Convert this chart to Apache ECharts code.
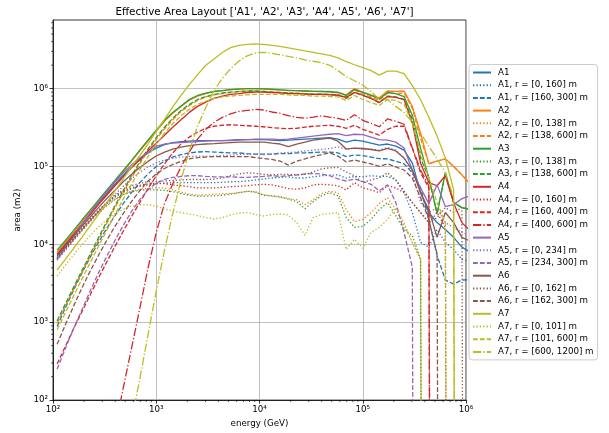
<!DOCTYPE html>
<html><head><meta charset="utf-8">
<script src="https://cdn.jsdelivr.net/npm/echarts@6/dist/echarts.min.js"></script>
<style>html,body{margin:0;padding:0;background:#fff}#c{width:609px;height:433px}</style>
</head><body><div id="c"></div>
<script>
// energy bin centres (GeV)
const energyGeV = [109.6,131.8,158.5,190.5,229.1,275.4,331.1,398.1,478.6,575.4,691.8,831.8,1000,1202,1445,1738,2089,2512,3020,3631,4365,5248,6310,7586,9120,10965,13183,15849,19055,22909,27542,33113,39811,47863,57544,69183,83176,100000,120226,144544,173780,208930,251189,301995,363078,436516,524807,630957,758578,912011,1096478];

// effective area (m2); 0 = no area
const A1_all = [7.2e3,9.9e3,1.34e4,1.82e4,2.48e4,3.33e4,4.47e4,5.9e4,7.7e4,9.85e4,1.23e5,1.49e5,1.72e5,1.9e5,2.02e5,2.08e5,2.11e5,2.14e5,2.14e5,2.14e5,2.14e5,2.18e5,2.21e5,2.21e5,2.21e5,2.21e5,2.18e5,2.14e5,2.18e5,2.21e5,2.24e5,2.27e5,2.31e5,2.34e5,2.24e5,2.05e5,2.18e5,2.11e5,1.99e5,1.88e5,1.94e5,1.82e5,1.62e5,1.11e5,4.6e4,2.56e4,1.9e4,1.55e4,1.23e4,9.2e3,8.0e3];
const A1_r0_160 = [6.4e3,8.6e3,1.16e4,1.53e4,2.02e4,2.63e4,3.33e4,4.03e4,4.66e4,5.2e4,5.56e4,5.8e4,5.98e4,6.1e4,6.2e4,6.2e4,6.2e4,6.2e4,6.2e4,6.2e4,6.25e4,6.35e4,6.4e4,6.5e4,6.7e4,6.9e4,7.1e4,7.24e4,7.35e4,7.1e4,7.1e4,7.35e4,7.6e4,7.7e4,7.8e4,7.1e4,7.46e4,7.35e4,7.6e4,7.46e4,7.46e4,6.7e4,4.6e4,2.56e4,1.06e4,9.2e3,1.55e4,1.06e4,8.6e3,6.4e3,6.0e3];
const A1_r160_300 = [8.8e2,1.53e3,2.59e3,4.27e3,6.8e3,1.06e4,1.6e4,2.34e4,3.33e4,4.6e4,6.2e4,8.0e4,1.0e5,1.17e5,1.32e5,1.42e5,1.49e5,1.53e5,1.55e5,1.53e5,1.51e5,1.49e5,1.49e5,1.46e5,1.44e5,1.44e5,1.44e5,1.46e5,1.46e5,1.49e5,1.49e5,1.51e5,1.53e5,1.53e5,1.49e5,1.34e5,1.40e5,1.38e5,1.32e5,1.26e5,1.25e5,1.17e5,1.08e5,8.3e4,5.3e4,2.08e4,7.2e3,3.48e3,3.09e3,3.48e3,3.5e3];

const A2_all = [7.9e3,1.06e4,1.42e4,1.94e4,2.63e4,3.53e4,4.73e4,6.35e4,8.5e4,1.16e5,1.58e5,2.11e5,2.83e5,3.8e5,4.8e5,5.9e5,7.1e5,8.0e5,8.6e5,9.2e5,9.4e5,9.7e5,9.9e5,1.0e6,1.0e6,9.9e5,9.7e5,9.6e5,9.4e5,9.4e5,9.3e5,9.2e5,9.2e5,9.0e5,8.9e5,8.3e5,1.0e6,9.0e5,8.3e5,7.6e5,9.3e5,9.2e5,9.3e5,5.9e5,2.67e5,1.08e5,1.17e5,1.25e5,1.0e5,7.8e4,6.0e4];
const A2_r0_138 = [6.4e3,8.5e3,1.12e4,1.49e4,1.94e4,2.48e4,3.09e4,3.74e4,4.33e4,4.8e4,5.1e4,5.24e4,5.3e4,5.3e4,5.0e4,4.66e4,4.4e4,4.27e4,4.33e4,4.4e4,4.47e4,4.47e4,4.6e4,4.8e4,4.73e4,4.33e4,4.15e4,4.03e4,3.86e4,3.74e4,3.23e4,3.74e4,4.47e4,4.8e4,4.6e4,2.79e4,1.96e4,2.08e4,2.56e4,3.33e4,3.97e4,2.79e4,1.75e4,1.06e4,6.4e3,0,0,0,0,0,0];
const A2_r138_600 = [9.6e2,1.62e3,2.67e3,4.33e3,7.0e3,1.14e4,1.85e4,2.96e4,4.6e4,7.1e4,1.08e5,1.58e5,2.24e5,3.05e5,3.97e5,5.09e5,6.07e5,7.03e5,7.8e5,8.3e5,8.6e5,8.9e5,9.16e5,9.3e5,9.3e5,9.16e5,9.0e5,8.9e5,8.76e5,8.76e5,8.6e5,8.5e5,8.5e5,8.4e5,8.3e5,7.8e5,9.6e5,8.5e5,7.8e5,7.03e5,8.76e5,8.6e5,8.76e5,5.56e5,2.31e5,1.08e5,1.17e5,1.25e5,1.0e5,7.8e4,6.0e4];

const A3_all = [8.4e3,1.12e4,1.51e4,2.05e4,2.75e4,3.69e4,4.94e4,6.63e4,8.89e4,1.19e5,1.62e5,2.18e5,2.92e5,3.91e5,4.94e5,5.98e5,7.24e5,8.15e5,8.76e5,9.16e5,9.43e5,9.71e5,9.85e5,1.0e6,1.0e6,9.9e5,9.8e5,9.6e5,9.5e5,9.4e5,9.3e5,9.2e5,9.16e5,9.16e5,8.9e5,8.15e5,9.71e5,8.9e5,8.15e5,7.35e5,8.9e5,8.6e5,7.9e5,4.53e5,1.72e5,7.1e4,2.48e4,8.3e4,3.43e4,2.96e4,2.8e4];
const A3_r0_138 = [6.8e3,9.0e3,1.19e4,1.58e4,2.05e4,2.59e4,3.19e4,3.8e4,4.33e4,4.73e4,4.94e4,5.0e4,5.0e4,4.94e4,4.73e4,4.47e4,4.27e4,4.15e4,4.15e4,4.2e4,4.27e4,4.4e4,4.6e4,4.8e4,4.66e4,4.27e4,4.2e4,4.09e4,3.8e4,3.53e4,2.87e4,3.53e4,4.2e4,4.6e4,4.2e4,2.21e4,1.65e4,1.70e4,2.08e4,2.79e4,3.43e4,2.34e4,1.55e4,1.30e4,6.4e3,0,0,0,0,0,0];
const A3_r138_600 = [1.04e3,1.72e3,2.83e3,4.6e3,7.46e3,1.21e4,1.96e4,3.14e4,4.87e4,7.6e4,1.14e5,1.67e5,2.34e5,3.19e5,4.15e5,5.24e5,6.25e5,7.24e5,7.9e5,8.4e5,8.76e5,9.0e5,9.16e5,9.3e5,9.3e5,9.16e5,9.0e5,8.9e5,8.76e5,8.6e5,8.6e5,8.5e5,8.5e5,8.4e5,8.3e5,7.46e5,8.9e5,8.15e5,7.46e5,6.6e5,8.0e5,7.8e5,7.24e5,4.03e5,1.28e5,7.1e4,2.48e4,8.3e4,3.43e4,2.96e4,2.8e4];

const A4_all = [7.5e3,1.0e4,1.34e4,1.8e4,2.41e4,3.23e4,4.27e4,5.65e4,7.35e4,9.6e4,1.23e5,1.58e5,1.99e5,2.52e5,3.19e5,3.97e5,4.94e5,5.9e5,6.7e5,7.46e5,8.0e5,8.4e5,8.6e5,8.9e5,9.0e5,9.0e5,8.9e5,8.8e5,8.6e5,8.6e5,8.5e5,8.4e5,8.4e5,8.3e5,8.2e5,7.7e5,8.9e5,8.2e5,7.5e5,6.6e5,7.9e5,7.7e5,7.2e5,3.6e5,1.1e5,6.2e4,5.65e4,7.6e4,3.4e4,1.9e4,1.5e4];
const A4_r0_160 = [6.6e3,8.9e3,1.19e4,1.6e4,2.11e4,2.75e4,3.43e4,4.15e4,4.8e4,5.3e4,5.7e4,6.0e4,6.1e4,6.0e4,5.8e4,5.65e4,5.5e4,5.3e4,5.3e4,5.3e4,5.4e4,5.5e4,5.55e4,5.65e4,5.8e4,5.9e4,5.8e4,5.5e4,5.2e4,5.1e4,5.3e4,5.8e4,5.9e4,5.8e4,5.65e4,5.0e4,6.2e4,5.3e4,5.0e4,4.6e4,5.65e4,5.3e4,4.6e4,3.43e4,2.56e4,1.9e4,2.56e4,1.65e4,0,0,0];
const A4_r160_400 = [2.9e2,4.9e2,8.3e2,1.36e3,2.24e3,3.69e3,5.9e3,9.4e3,1.47e4,2.27e4,3.43e4,5.2e4,7.6e4,1.08e5,1.49e5,1.94e5,2.38e5,2.75e5,3.09e5,3.28e5,3.38e5,3.43e5,3.38e5,3.33e5,3.28e5,3.23e5,3.14e5,3.09e5,3.05e5,3.09e5,3.19e5,3.28e5,3.33e5,3.38e5,3.28e5,3.09e5,3.38e5,3.0e5,2.75e5,2.52e5,3.0e5,3.28e5,3.28e5,1.72e5,8.3e4,5.3e4,0,0,0,0,0];
const A4_r400_600 = [0,0,0,0,0,0,0,44,142,460,1.49e3,4.94e3,1.42e4,3.33e4,5.98e4,9.86e4,1.53e5,2.24e5,3.0e5,3.69e5,4.27e5,4.73e5,5.09e5,5.24e5,5.4e5,5.3e5,5.0e5,4.8e5,4.5e5,4.27e5,4.15e5,4.3e5,4.46e5,4.3e5,4.15e5,3.91e5,4.6e5,3.91e5,3.58e5,3.23e5,4.08e5,3.8e5,3.48e5,1.72e5,9.0e4,5.65e4,0,0,0,0,0];

const A5_all = [6.4e3,9.2e3,1.28e4,1.8e4,2.52e4,3.48e4,4.73e4,6.35e4,8.3e4,1.04e5,1.28e5,1.51e5,1.82e5,1.94e5,1.99e5,2.02e5,2.05e5,2.08e5,2.11e5,2.14e5,2.14e5,2.14e5,2.18e5,2.21e5,2.24e5,2.24e5,2.24e5,2.21e5,2.24e5,2.31e5,2.38e5,2.45e5,2.52e5,2.59e5,2.63e5,2.48e5,2.59e5,2.56e5,2.38e5,2.21e5,2.18e5,2.05e5,1.72e5,9.0e4,5.3e4,3.33e4,5.8e4,3.05e4,3.23e4,3.86e4,4.2e4];
const A5_r0_234 = [6.25e3,8.4e3,1.12e4,1.51e4,1.99e4,2.63e4,3.43e4,4.4e4,5.56e4,6.9e4,8.4e4,9.85e4,1.11e5,1.21e5,1.28e5,1.32e5,1.34e5,1.36e5,1.36e5,1.36e5,1.38e5,1.40e5,1.42e5,1.44e5,1.44e5,1.42e5,1.44e5,1.49e5,1.51e5,1.53e5,1.58e5,1.62e5,1.65e5,1.70e5,1.77e5,1.67e5,1.72e5,1.65e5,1.67e5,1.62e5,1.75e5,1.62e5,1.28e5,8.3e4,3.43e4,2.56e4,2.96e4,1.9e4,1.65e4,1.42e4,1.3e4];
const A5_r234_300 = [2.5e2,4.6e2,8.3e2,1.44e3,2.52e3,4.27e3,7.0e3,1.12e4,1.75e4,2.63e4,3.74e4,5.0e4,6.1e4,6.8e4,7.24e4,7.46e4,7.6e4,7.6e4,7.46e4,7.35e4,7.35e4,7.35e4,7.24e4,7.24e4,7.35e4,7.46e4,7.6e4,7.46e4,7.6e4,7.8e4,8.0e4,8.1e4,8.0e4,7.6e4,6.9e4,6.5e4,6.9e4,6.4e4,5.9e4,4.87e4,5.8e4,3.43e4,1.42e4,5.1e3,0,0,0,0,0,0,0];

const A6_all = [7.0e3,9.4e3,1.26e4,1.70e4,2.24e4,2.96e4,3.86e4,4.94e4,6.35e4,7.9e4,9.7e4,1.16e5,1.36e5,1.53e5,1.67e5,1.77e5,1.85e5,1.91e5,1.94e5,1.96e5,1.99e5,2.02e5,2.05e5,2.05e5,2.05e5,2.05e5,1.99e5,1.94e5,1.80e5,1.94e5,2.05e5,2.18e5,2.24e5,2.31e5,2.11e5,1.67e5,1.72e5,1.70e5,1.65e5,1.58e5,1.70e5,1.58e5,1.28e5,9.0e4,4.6e4,2.79e4,1.23e4,2.56e4,1.9e4,1.23e4,1.1e4];
const A6_r0_162 = [6.6e3,8.8e3,1.16e4,1.53e4,2.02e4,2.63e4,3.38e4,4.2e4,5.0e4,5.65e4,6.1e4,6.35e4,6.4e4,6.5e4,6.6e4,6.7e4,6.8e4,6.8e4,6.8e4,6.9e4,7.1e4,7.6e4,8.0e4,8.3e4,8.15e4,7.9e4,7.8e4,7.9e4,7.9e4,7.8e4,7.9e4,8.5e4,9.3e4,9.6e4,9.7e4,8.5e4,7.6e4,6.2e4,6.7e4,7.1e4,8.3e4,6.7e4,4.87e4,3.43e4,2.56e4,1.9e4,2.21e4,2.96e4,2.56e4,2.96e4,0];
const A6_r162_300 = [5.2e2,9.3e2,1.62e3,2.75e3,4.53e3,7.2e3,1.12e4,1.70e4,2.48e4,3.53e4,4.87e4,6.5e4,8.0e4,9.4e4,1.06e5,1.16e5,1.25e5,1.30e5,1.32e5,1.34e5,1.34e5,1.34e5,1.34e5,1.34e5,1.30e5,1.26e5,1.23e5,1.17e5,1.04e5,1.17e5,1.25e5,1.34e5,1.42e5,1.49e5,1.36e5,1.14e5,1.21e5,1.14e5,1.08e5,1.0e5,1.08e5,9.85e4,9.0e4,7.1e4,3.97e4,2.08e4,7.5e3,0,0,0,0];

const A7_all = [4.7e3,6.4e3,8.9e3,1.23e4,1.72e4,2.41e4,3.43e4,4.87e4,6.9e4,9.85e4,1.38e5,1.94e5,2.83e5,4.03e5,5.8e5,8.15e5,1.12e6,1.51e6,1.99e6,2.4e6,2.9e6,3.35e6,3.58e6,3.69e6,3.74e6,3.69e6,3.58e6,3.48e6,3.33e6,3.19e6,3.05e6,2.92e6,2.79e6,2.67e6,2.48e6,2.21e6,2.02e6,1.85e6,1.70e6,1.49e6,1.67e6,1.67e6,1.55e6,1.09e6,7.24e5,4.27e5,2.45e5,1.28e5,5.0e4,0,0];
const A7_r0_101 = [3.9e3,5.4e3,7.35e3,9.85e3,1.30e4,1.67e4,2.08e4,2.48e4,2.83e4,3.09e4,3.23e4,3.23e4,3.09e4,2.87e4,2.67e4,2.56e4,2.45e4,2.34e4,2.21e4,2.11e4,2.21e4,2.38e4,2.52e4,2.56e4,2.41e4,2.31e4,2.41e4,2.45e4,2.38e4,1.9e4,1.3e4,2.21e4,2.41e4,2.48e4,2.56e4,8.6e3,1.16e4,8.9e3,1.42e4,1.65e4,2.08e4,2.96e4,1.9e4,1.06e4,6.4e3,0,0,0,0,0,0];
const A7_r101_600 = [8.0e2,1.32e3,2.18e3,3.58e3,5.8e3,9.4e3,1.51e4,2.41e4,3.8e4,5.9e4,9.0e4,1.34e5,1.94e5,2.67e5,3.53e5,4.47e5,5.4e5,6.25e5,6.9e5,7.46e5,7.8e5,8.0e5,8.15e5,8.3e5,8.4e5,8.4e5,8.4e5,8.4e5,8.3e5,8.15e5,8.15e5,8.0e5,8.0e5,7.9e5,7.8e5,7.03e5,8.15e5,7.24e5,6.6e5,6.07e5,7.24e5,7.03e5,6.25e5,3.58e5,1.49e5,7.1e4,3.43e4,1.9e4,0,0,0];
const A7_r600_1200 = [0,0,0,0,0,0,0,0,0,54,185,690,2.5e3,8.4e3,2.48e4,6.7e4,1.58e5,3.28e5,5.7e5,9.5e5,1.35e6,1.80e6,2.25e6,2.63e6,2.87e6,2.92e6,2.83e6,2.71e6,2.59e6,2.48e6,2.34e6,2.24e6,2.14e6,1.99e6,1.70e6,1.42e6,1.26e6,1.11e6,9.16e5,7.24e5,7.24e5,5.9e5,4.94e5,3.69e5,2.67e5,1.82e5,1.25e5,8.3e4,4.0e4,0,0];

// tick labels (exponents of ten)
const xTickExponents = [2, 3, 4, 5, 6];
const yTickExponents = [2, 3, 4, 5, 6];
const supDigits = {'2':'\u00b2','3':'\u00b3','4':'\u2074','5':'\u2075','6':'\u2076'};

const seriesSpecs = [
  ['A1', A1_all, '#1f77b4', 'solid'],
  ['A1, r = [0, 160] m', A1_r0_160, '#1f77b4', 'dotted'],
  ['A1, r = [160, 300] m', A1_r160_300, '#1f77b4', 'dashed'],
  ['A2', A2_all, '#ff7f0e', 'solid'],
  ['A2, r = [0, 138] m', A2_r0_138, '#ff7f0e', 'dotted'],
  ['A2, r = [138, 600] m', A2_r138_600, '#ff7f0e', 'dashed'],
  ['A3', A3_all, '#2ca02c', 'solid'],
  ['A3, r = [0, 138] m', A3_r0_138, '#2ca02c', 'dotted'],
  ['A3, r = [138, 600] m', A3_r138_600, '#2ca02c', 'dashed'],
  ['A4', A4_all, '#d62728', 'solid'],
  ['A4, r = [0, 160] m', A4_r0_160, '#d62728', 'dotted'],
  ['A4, r = [160, 400] m', A4_r160_400, '#d62728', 'dashed'],
  ['A4, r = [400, 600] m', A4_r400_600, '#d62728', 'dashdot'],
  ['A5', A5_all, '#9467bd', 'solid'],
  ['A5, r = [0, 234] m', A5_r0_234, '#9467bd', 'dotted'],
  ['A5, r = [234, 300] m', A5_r234_300, '#9467bd', 'dashed'],
  ['A6', A6_all, '#8c564b', 'solid'],
  ['A6, r = [0, 162] m', A6_r0_162, '#8c564b', 'dotted'],
  ['A6, r = [162, 300] m', A6_r162_300, '#8c564b', 'dashed'],
  ['A7', A7_all, '#bcbd22', 'solid'],
  ['A7, r = [0, 101] m', A7_r0_101, '#bcbd22', 'dotted'],
  ['A7, r = [101, 600] m', A7_r101_600, '#bcbd22', 'dashed'],
  ['A7, r = [600, 1200] m', A7_r600_1200, '#bcbd22', 'dashdot']
];

const LW = 1.3;
const dashes = {
  solid: 'solid',
  dotted: [1.3, 2.1],
  dashed: [4.8, 2.1],
  dashdot: [8.3, 2.1, 1.3, 2.1]
};
// log10 transform; zero area is clipped far below the axis (like a log plot)
const lg = v => (v > 0 ? Math.log10(v) : -30);

const X_MIN = 2, X_MAX = 6, Y_MIN = 2, Y_MAX = 6.88;
// log-scale minor tick positions (2..9 x 10^n)
const xMinor = [], yMinor = [];
for (let d = 2; d <= 5; d++) for (let m = 2; m <= 9; m++) xMinor.push(Math.log10(m) + d);
for (let d = 2; d <= 6; d++) for (let m = 2; m <= 9; m++) { const v = Math.log10(m) + d; if (v < Y_MAX) yMinor.push(v); }

const FONT = 'DejaVu Sans';
const series = seriesSpecs.map(([name, vals, color, st]) => ({
  name, type: 'line', xAxisIndex: 0, yAxisIndex: 0,
  data: energyGeV.map((e, i) => [Math.log10(e), lg(vals[i])]),
  symbol: 'none', showSymbol: false, smooth: false, clip: true,
  color: color,
  lineStyle: { color: color, width: LW, type: dashes[st], cap: 'butt' },
  emphasis: { disabled: true },
  z: 2
}));

// minor ticks drawn through the axis scales
series.push({
  type: 'custom', name: '_xminor', silent: true, clip: false, z: 5,
  data: xMinor.map(v => [v, Y_MIN]), encode: { x: 0, y: 1 },
  renderItem: (params, api) => {
    const p = api.coord([api.value(0), api.value(1)]);
    return { type: 'line', shape: { x1: p[0], y1: p[1], x2: p[0], y2: p[1] + 2 }, style: { stroke: '#000', lineWidth: 0.6 } };
  }
});
series.push({
  type: 'custom', name: '_yminor', silent: true, clip: false, z: 5,
  data: yMinor.map(v => [X_MIN, v]), encode: { x: 0, y: 1 },
  renderItem: (params, api) => {
    const p = api.coord([api.value(0), api.value(1)]);
    return { type: 'line', shape: { x1: p[0] - 2, y1: p[1], x2: p[0], y2: p[1] }, style: { stroke: '#000', lineWidth: 0.6 } };
  }
});

const tickFmt = v => (Number.isInteger(v) ? '10' + supDigits[String(v)] : '');

const chart = echarts.init(document.getElementById('c'), null, { renderer: 'canvas' });
chart.setOption({
  animation: false,
  textStyle: { fontFamily: FONT },
  title: {
    text: "Effective Area Layout ['A1', 'A2', 'A3', 'A4', 'A5', 'A6', 'A7']",
    left: 259.5, top: 2, textAlign: 'center',
    textStyle: { fontSize: 10.4, fontWeight: 'normal', color: '#000', fontFamily: FONT }
  },
  grid: { left: 53, top: 20, width: 413, height: 384, show: true, borderColor: '#000', borderWidth: 0.8, backgroundColor: 'transparent', containLabel: false },
  legend: {
    orient: 'vertical', left: 469, top: 64.5,
    itemWidth: 18, itemHeight: 10, itemGap: 2.7,
    padding: [3, 4, 3, 3],
    borderColor: '#cccccc', borderWidth: 1, borderRadius: 3, backgroundColor: '#ffffff',
    selectedMode: false,
    itemStyle: { color: 'rgba(0,0,0,0)', borderColor: 'rgba(0,0,0,0)', borderWidth: 0, opacity: 0 },
    textStyle: { fontSize: 8.7, color: '#000', fontFamily: FONT, lineHeight: 10, padding: [0, 0, 0, 2] },
    data: seriesSpecs.map(s => s[0])
  },
  xAxis: [
    {
      type: 'value', min: X_MIN, max: X_MAX, interval: 1, position: 'bottom',
      name: 'energy (GeV)', nameLocation: 'middle', nameGap: 18,
      nameTextStyle: { fontSize: 8.7, color: '#000', fontFamily: FONT },
      axisLine: { show: true, onZero: false, lineStyle: { color: '#000', width: 0.8 } },
      axisTick: { show: true, length: 3.5, inside: false, lineStyle: { color: '#000', width: 0.8 } },
      axisLabel: { show: true, margin: 5, fontSize: 8.7, color: '#000', fontFamily: FONT,
        customValues: xTickExponents, formatter: tickFmt },
      splitLine: { show: true, lineStyle: { color: '#b0b0b0', width: 0.8 } }
    }
  ],
  yAxis: [
    {
      type: 'value', min: Y_MIN, max: Y_MAX, interval: 1, position: 'left',
      name: 'area (m2)', nameLocation: 'middle', nameGap: 30,
      nameTextStyle: { fontSize: 8.7, color: '#000', fontFamily: FONT },
      axisLine: { show: true, onZero: false, lineStyle: { color: '#000', width: 0.8 } },
      axisTick: { show: true, length: 3.5, inside: false, customValues: yTickExponents, lineStyle: { color: '#000', width: 0.8 } },
      axisLabel: { show: true, margin: 5, fontSize: 8.7, color: '#000', fontFamily: FONT,
        customValues: yTickExponents, formatter: tickFmt },
      splitLine: { show: true, lineStyle: { color: '#b0b0b0', width: 0.8 } }
    }
  ],
  series: series
});
</script>
</body></html>
